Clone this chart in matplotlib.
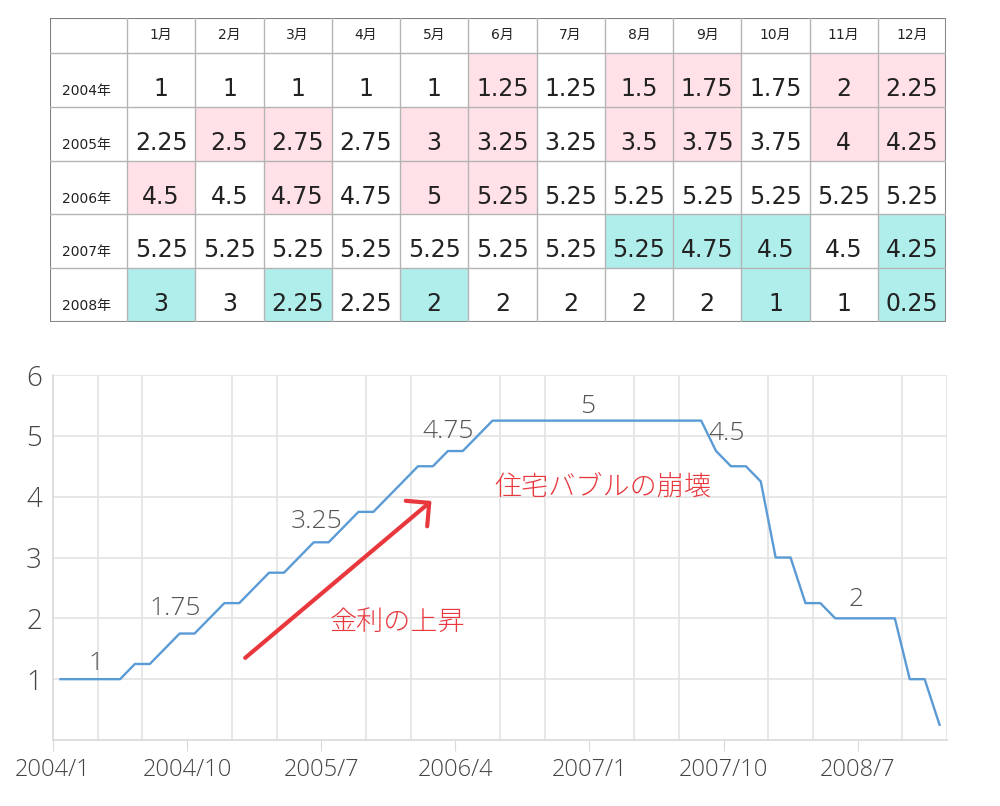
import numpy as np
import matplotlib.pyplot as plt
from matplotlib.patches import Rectangle

# 政策金利 (%) by year, Jan..Dec
years = ['2004年', '2005年', '2006年', '2007年', '2008年']
months = ['1月', '2月', '3月', '4月', '5月', '6月', '7月', '8月', '9月', '10月', '11月', '12月']
rate_2004 = [1, 1, 1, 1, 1, 1.25, 1.25, 1.5, 1.75, 1.75, 2, 2.25]
rate_2005 = [2.25, 2.5, 2.75, 2.75, 3, 3.25, 3.25, 3.5, 3.75, 3.75, 4, 4.25]
rate_2006 = [4.5, 4.5, 4.75, 4.75, 5, 5.25, 5.25, 5.25, 5.25, 5.25, 5.25, 5.25]
rate_2007 = [5.25, 5.25, 5.25, 5.25, 5.25, 5.25, 5.25, 5.25, 4.75, 4.5, 4.5, 4.25]
rate_2008 = [3, 3, 2.25, 2.25, 2, 2, 2, 2, 2, 1, 1, 0.25]
rates = [rate_2004, rate_2005, rate_2006, rate_2007, rate_2008]

# highlighted months in the table (pink = raise, cyan = cut)
raise_months = [[6, 8, 9, 11, 12], [2, 3, 5, 6, 8, 9, 11, 12], [1, 3, 5, 6], [], []]
cut_months = [[], [], [], [8, 9, 10, 12], [1, 3, 5, 10, 12]]

x_labels = ['2004/1', '2004/10', '2005/7', '2006/4', '2007/1', '2007/10', '2008/7']
y_labels = ['1', '2', '3', '4', '5', '6']

# (month index, text, dx px, dy px)
point_labels = [(2, '1', 6, 9), (8, '1.75', -4, 19), (17, '3.25', 3, 14),
                (26, '4.75', 0, 13), (35, '5', 6, 8), (45, '4.5', -4, 26),
                (53, '2', 6, 12)]

pink = '#FFE1E7'
cyan = '#B0EEEC'
red = '#E8383D'
blue = '#5B9BD5'
gray_txt = '#444444'
grid_c = '#E3E3E3'
cjk = ['DejaVu Sans', 'Noto Sans CJK JP']

fig = plt.figure(figsize=(10, 8.06), dpi=100)

# ---- table ----
tab = fig.add_axes([0.05, 1 - 322 / 806.0, 0.896, 304 / 806.0])
first_w = 77 / 68.25
head_h = 35 / 54.0
tab.set_xlim(0, first_w + 12)
tab.set_ylim(head_h + len(years), 0)
tab.axis('off')

for r in range(len(years)):
    y0 = head_h + r
    for c in range(12):
        x0 = first_w + c
        fc = 'white'
        if c + 1 in raise_months[r]:
            fc = pink
        elif c + 1 in cut_months[r]:
            fc = cyan
        tab.add_patch(Rectangle((x0, y0), 1, 1, facecolor=fc, edgecolor='none'))
        tab.text(x0 + 0.5, y0 + 0.80, '{:g}'.format(rates[r][c]), ha='center', va='baseline',
                 fontsize=17, color='#222222', family='DejaVu Sans')
    tab.text(0.17, y0 + 0.78, years[r], ha='left', va='baseline', fontsize=10,
             color='#222222', family=cjk)
for c in range(12):
    tab.text(first_w + c + 0.5, 0.39, months[c], ha='center', va='baseline', fontsize=10,
             color='#222222', family=cjk)

line_kw = dict(color='#B4B4B4', lw=1.0)
for c in range(13):
    tab.plot([first_w + c, first_w + c], [0, head_h + len(years)], **line_kw)
for r in range(len(years) + 1):
    tab.plot([0, first_w + 12], [head_h + r, head_h + r], **line_kw)
tab.add_patch(Rectangle((0, 0), first_w + 12, head_h + len(years), facecolor='none',
                        edgecolor='#808080', lw=1.5))

# ---- line chart ----
ax = fig.add_axes([0.053, 1 - 740 / 806.0, 0.894, 365 / 806.0])
series = np.concatenate(rates)
xs = np.arange(len(series)) + 0.5
ax.plot(xs, series, color=blue, lw=1.7, zorder=3)
ax.set_xlim(0, 60)
ax.set_ylim(0, 6)

ax.set_xticks(np.arange(0, 61, 3), minor=True)
ax.set_xticks(np.arange(0, 60, 9))
ax.set_xticklabels(x_labels)
ax.set_yticks(np.arange(1, 7))
ax.set_yticklabels(y_labels)
ax.grid(which='minor', axis='x', color=grid_c, lw=1.2)
ax.grid(which='major', axis='y', color=grid_c, lw=1.2)
ax.tick_params(axis='x', which='major', length=8, color='#D9D9D9', pad=5,
               labelsize=17, labelcolor=gray_txt)
ax.tick_params(axis='x', which='minor', length=0)
ax.tick_params(axis='y', length=0, pad=8, labelsize=20, labelcolor=gray_txt)
for lab in ax.get_xticklabels() + ax.get_yticklabels():
    lab.set_family('Open Sans')
    lab.set_fontweight('light')
for s in ['top', 'right']:
    ax.spines[s].set_visible(False)
for s in ['left', 'bottom']:
    ax.spines[s].set_color('#D9D9D9')
    ax.spines[s].set_linewidth(1.2)

for i, txt, dx, dy in point_labels:
    ax.annotate(txt, (xs[i], series[i]), xytext=(dx, dy), textcoords='offset pixels',
                ha='center', va='baseline', fontsize=19, color='#555555',
                family='Open Sans', fontweight='light')

ax.annotate('', xy=(25.4, 3.93), xytext=(12.9, 1.35),
            arrowprops=dict(arrowstyle='->,head_length=0.6,head_width=0.6',
                            mutation_scale=20, lw=3, color=red, shrinkA=0, shrinkB=0))
ax.text(23.1, 1.94, '金利の上昇', ha='center', va='center', fontsize=19.5, color=red,
        family='Noto Sans CJK JP', fontweight='light')
ax.text(36.9, 4.16, '住宅バブルの崩壊', ha='center', va='center', fontsize=19.5, color=red,
        family='Noto Sans CJK JP', fontweight='light')

fig.savefig('out.png', dpi=100)
